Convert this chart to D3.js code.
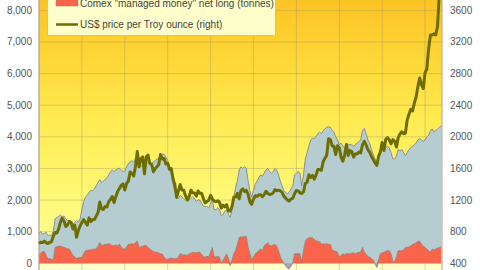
<!DOCTYPE html>
<html><head><meta charset="utf-8">
<script src="https://cdn.jsdelivr.net/npm/d3@7"></script>
<style>html,body{margin:0;padding:0;background:#fff;}svg{display:block;font-family:"Liberation Sans",Arial,sans-serif;}</style>
</head><body><svg id="c" width="480" height="270"></svg>
<script>
// Monthly data, Jan 2007 .. Oct 2025
const startYear = 2007;
const leftTicks = [0,1000,2000,3000,4000,5000,6000,7000,8000];
const rightTicks = [400,800,1200,1600,2000,2400,2800,3200,3600];
const gridYears = [2007,2009,2011,2013,2015,2017,2019,2021,2023,2025];
const legendLabels = ['Comex "managed money" net long (tonnes)', 'US$ price per Troy ounce (right)'];

// Comex managed money net long (tonnes)
const comex = [
 260,320,370,370,250,130,150,120,100,500,520,540,
 550,520,500,480,460,450,350,250,200,150,170,180,
 190,300,400,410,420,430,440,450,450,550,660,560,
 580,600,600,620,600,560,560,580,560,600,520,450,
 450,520,600,600,620,600,650,700,500,520,540,560,
 560,500,450,400,380,350,350,320,300,290,200,130,
 130,150,170,150,140,150,200,300,280,260,270,250,
 300,320,350,340,330,350,350,280,200,200,220,200,
 350,500,200,200,220,200,0,100,200,300,150,-70,
 100,300,400,600,820,840,830,850,850,500,300,100,
 200,300,350,400,450,400,550,600,650,560,550,580,
 600,550,400,200,100,0,-80,-150,-170,-80,0,300,
 300,310,300,50,400,700,780,800,820,800,760,700,
 700,680,600,620,600,620,600,600,420,400,370,350,
 200,250,300,280,300,300,300,320,330,300,330,350,
 350,500,350,300,200,200,150,100,0,-130,100,300,
 330,350,380,400,400,300,50,50,200,400,400,400,
 420,500,500,520,550,600,620,650,700,700,600,550,
 500,450,400,350,450,420,450,480,500,520
];
// Total holdings: ETF + Comex (tonnes), top of the grey-blue area
const total = [
 950,1000,920,950,980,880,900,870,1000,1400,1450,1480,
 1530,1450,1500,1400,1350,1300,1280,1250,1300,1350,1300,1400,
 1700,1950,2100,2150,2250,2300,2300,2350,2450,2550,2650,2550,
 2600,2650,2700,2800,2900,2950,2900,2950,3000,3000,2950,2900,
 2900,3050,3150,3200,3250,3200,3300,3400,3250,3100,3050,3200,
 3250,3350,3200,3150,3200,3250,3300,3300,3400,3450,3450,3350,
 3250,3100,2900,2500,2300,2050,2050,2150,2100,2050,2000,1950,
 2000,2050,2100,2050,1950,2000,2000,1900,1800,1800,1800,1750,
 1900,2000,1700,1700,1750,1700,1500,1550,1650,1700,1550,1450,
 1700,2100,2400,2600,2950,3050,3000,3050,3000,2600,2300,2100,
 2300,2500,2600,2700,2800,2750,2850,2950,3000,2900,2850,2900,
 3000,2950,2800,2600,2450,2300,2250,2200,2250,2350,2450,2800,
 2850,2900,2850,2450,2800,3300,3500,3700,3900,3950,3950,4000,
 4100,4150,4100,4200,4250,4300,4320,4300,4200,4150,4000,3900,
 3750,3800,3700,3650,3800,3750,3750,3750,3700,3750,3800,3850,
 3900,4200,4270,4100,3900,3800,3600,3450,3300,3200,3300,3450,
 3600,3550,3650,3700,3650,3500,3300,3300,3400,3600,3550,3600,
 3500,3400,3500,3600,3650,3700,3750,3800,3900,3950,3900,3850,
 3900,4000,4050,4200,4250,4150,4200,4250,4300,4340
];
// Gold price US$/oz
const gold = [
 650,665,662,680,660,650,665,672,743,790,783,834,
 922,971,933,865,886,930,918,833,884,730,814,870,
 919,952,916,884,975,930,955,955,996,1040,1175,1087,
 1081,1119,1113,1180,1207,1244,1169,1246,1307,1346,1386,1405,
 1327,1409,1439,1556,1536,1505,1628,1813,1620,1722,1746,1531,
 1744,1770,1662,1651,1558,1598,1622,1648,1776,1720,1726,1657,
 1664,1588,1598,1467,1394,1235,1314,1395,1326,1324,1253,1204,
 1244,1326,1292,1288,1250,1315,1285,1285,1216,1164,1182,1199,
 1260,1214,1187,1180,1191,1172,1098,1135,1114,1142,1061,1060,
 1118,1234,1237,1285,1215,1320,1342,1309,1322,1273,1178,1146,
 1212,1255,1245,1266,1266,1242,1269,1311,1283,1271,1275,1291,
 1332,1318,1325,1316,1298,1250,1224,1201,1187,1214,1222,1279,
 1321,1316,1292,1283,1305,1409,1427,1520,1485,1511,1464,1515,
 1587,1585,1577,1686,1730,1768,1975,1968,1887,1879,1777,1888,
 1863,1743,1691,1768,1903,1763,1825,1814,1743,1783,1784,1806,
 1797,1900,1942,1897,1837,1807,1754,1712,1672,1637,1753,1812,
 1928,1827,1969,1990,1962,1912,1965,1942,1871,1993,2036,2063,
 2040,2044,2214,2286,2347,2327,2426,2503,2635,2744,2658,2609,
 2812,2858,3115,3289,3289,3303,3290,3400,3825,4100
];

const data = gold.map((g,i)=>({t:startYear+i/12, c:comex[i], tot:total[i], g:g}));

const svg = d3.select("#c");
const x = d3.scaleLinear().domain([2007, 2025.79]).range([39, 442]);
const yL = d3.scaleLinear().domain([-500, 9000]).range([279.1, -21.3]);
const yR = d3.scaleLinear().domain([200, 4000]).range([279.1, -21.3]);

const defs = svg.append("defs");
const grad = defs.append("linearGradient").attr("id","bg").attr("x1",0).attr("y1",0).attr("x2",0).attr("y2",1);
[[0,"#fbbd1c"],[0.25,"#fdd434"],[0.5,"#ffeb52"],[0.75,"#fff873"],[1,"#ffff9c"]].forEach(s=>grad.append("stop").attr("offset",s[0]).attr("stop-color",s[1]));

// plot background
svg.append("rect").attr("x",x(2007)).attr("y",yL(9000)).attr("width",x(2025.79)-x(2007)).attr("height",yL(0)-yL(9000)).attr("fill","url(#bg)");
svg.append("rect").attr("x",x(2007)).attr("y",yL(0)).attr("width",x(2025.79)-x(2007)).attr("height",yL(-500)-yL(0)).attr("fill","#ffffc8");

// grid
const gridCol = "rgba(150,140,110,0.35)";
svg.append("g").selectAll("line").data(leftTicks.concat([9000])).join("line")
  .attr("x1",x(2007)).attr("x2",x(2025.79)).attr("y1",d=>yL(d)).attr("y2",d=>yL(d))
  .attr("stroke",gridCol).attr("stroke-width",1);
svg.append("g").selectAll("line").data(gridYears).join("line")
  .attr("x1",d=>x(d)).attr("x2",d=>x(d)).attr("y1",yL(9000)).attr("y2",yL(-500))
  .attr("stroke",gridCol).attr("stroke-width",1);

// blue area (ETF on top of comex)
const areaBlue = d3.area().x(d=>x(d.t)).y0(d=>yL(d.c)).y1(d=>yL(d.tot));
svg.append("path").datum(data).attr("d",areaBlue).attr("fill","#b5cdd0");
svg.append("path").datum(data).attr("d",d3.line().x(d=>x(d.t)).y(d=>yL(d.tot)))
  .attr("fill","none").attr("stroke","#8c9090").attr("stroke-width",1);

// red area (positive comex)
const areaRed = d3.area().x(d=>x(d.t)).y0(yL(0)).y1(d=>yL(Math.max(0,d.c)));
svg.append("path").datum(data).attr("d",areaRed).attr("fill","#f9644a");
// negative comex
const areaNeg = d3.area().x(d=>x(d.t)).y0(yL(0)).y1(d=>yL(Math.min(0,d.c)));
svg.append("path").datum(data).attr("d",areaNeg).attr("fill","#aaa2b6");
svg.append("path").datum(data).attr("d",d3.line().x(d=>x(d.t)).y(d=>yL(d.c)))
  .attr("fill","none").attr("stroke","#8a7f80").attr("stroke-width",0.8);

// plot borders
svg.append("line").attr("x1",x(2007)).attr("x2",x(2007)).attr("y1",yL(9000)).attr("y2",yL(-500)).attr("stroke","#a9a490");
svg.append("line").attr("x1",x(2025.79)).attr("x2",x(2025.79)).attr("y1",yL(9000)).attr("y2",yL(-500)).attr("stroke","#a9a490");

// gold line
svg.append("path").datum(data).attr("d",d3.line().x(d=>x(d.t)).y(d=>yR(d.g)))
  .attr("fill","none").attr("stroke","#6e6e00").attr("stroke-width",3).attr("stroke-linejoin","round");

// axes labels
const fmt = d3.format(",");
svg.append("g").selectAll("text").data(leftTicks).join("text")
  .attr("x",32).attr("y",d=>yL(d)).attr("dy","0.35em").attr("text-anchor","end")
  .attr("font-size",10).attr("fill","#555").text(d=>fmt(d));
svg.append("g").selectAll("text").data(rightTicks).join("text")
  .attr("x",450).attr("y",d=>yR(d)).attr("dy","0.35em").attr("text-anchor","start")
  .attr("font-size",10).attr("fill","#555").text(d=>d);

// legend
const lg = svg.append("g");
lg.append("rect").attr("x",47.5).attr("y",-30).attr("width",228).attr("height",65.5)
  .attr("fill","#ffffcc").attr("stroke","#c8c4a8");
lg.append("rect").attr("x",56).attr("y",-1).attr("width",22).attr("height",7).attr("fill","#f9644a").attr("stroke","#b07060").attr("stroke-width",0.5);
lg.append("text").attr("x",80).attr("y",7).attr("font-size",10).attr("fill","#444").text(legendLabels[0]);
lg.append("line").attr("x1",56).attr("x2",78).attr("y1",24.5).attr("y2",24.5).attr("stroke","#6e6e00").attr("stroke-width",2.5);
lg.append("text").attr("x",80).attr("y",28.3).attr("font-size",10).attr("fill","#444").text(legendLabels[1]);
</script></body></html>
